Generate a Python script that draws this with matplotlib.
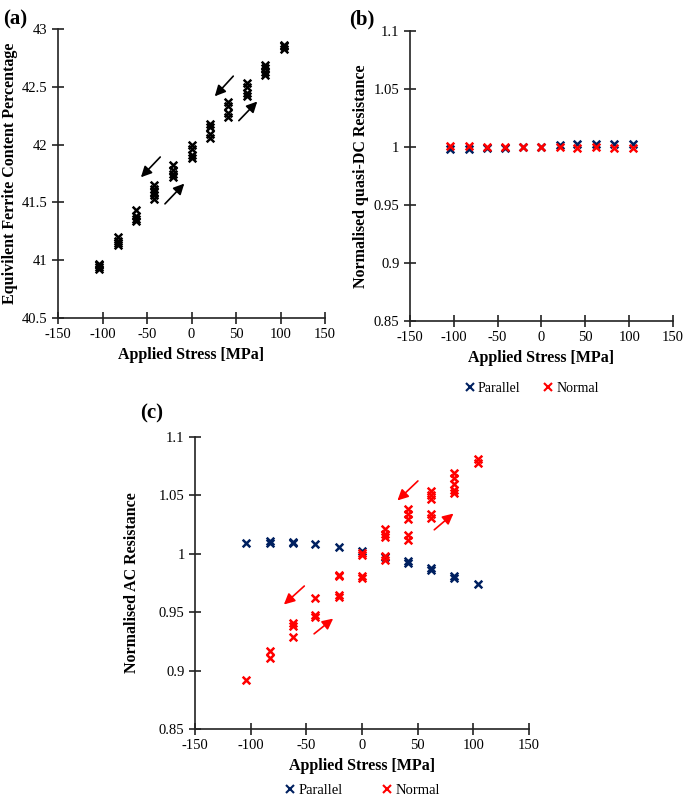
import matplotlib.pyplot as plt
from matplotlib.lines import Line2D

plt.rcParams['font.family'] = ['Liberation Serif', 'DejaVu Serif']
plt.rcParams['font.size'] = 10.5
plt.rcParams['axes.unicode_minus'] = False

# Datos
stress = [-104, -83, -62, -42, -21, 0, 21, 41, 62, 83, 104]

ferrite = [
    [40.92, 40.94, 40.96, 40.97],
    [41.13, 41.15, 41.17, 41.20],
    [41.34, 41.36, 41.38, 41.43],
    [41.53, 41.56, 41.59, 41.62, 41.65],
    [41.72, 41.75, 41.78, 41.82],
    [41.88, 41.91, 41.96, 42.00],
    [42.06, 42.09, 42.15, 42.18],
    [42.24, 42.27, 42.33, 42.37],
    [42.42, 42.45, 42.50, 42.53],
    [42.60, 42.63, 42.66, 42.69],
    [42.83, 42.85, 42.86],
]

dc_parallel = [0.998, 0.998, 0.999, 0.999, 1.000, 1.000, 1.002, 1.003, 1.003, 1.003, 1.003]
dc_normal = [1.001, 1.001, 1.000, 1.000, 1.000, 1.000, 1.000, 0.999, 1.000, 0.999, 0.999]

ac_parallel = [
    [1.009],
    [1.009, 1.011],
    [1.009, 1.010],
    [1.008],
    [1.006],
    [1.002],
    [0.997],
    [0.992, 0.994],
    [0.986, 0.988],
    [0.979, 0.981],
    [0.974],
]
ac_normal = [
    [0.892],
    [0.911, 0.917],
    [0.929, 0.938, 0.941],
    [0.946, 0.948, 0.962],
    [0.963, 0.965, 0.981, 0.982],
    [0.979, 0.981, 0.999, 1.001],
    [0.995, 0.998, 1.014, 1.017, 1.021],
    [1.012, 1.016, 1.030, 1.034, 1.038],
    [1.031, 1.034, 1.047, 1.050, 1.054],
    [1.052, 1.055, 1.060, 1.065, 1.069],
    [1.078, 1.081],
]

# flechas (inicio, fin)
arrows_a = [((49, 42.61), (24, 42.40)), ((51, 42.19), (76, 42.39)),
            ((-33, 41.91), (-59, 41.70)), ((-32, 41.47), (-6, 41.68))]
arrows_c = [((52, 1.064), (30, 1.044)), ((63, 1.019), (84, 1.036)),
            ((-50, 0.974), (-72, 0.955)), ((-45, 0.930), (-24, 0.946))]

navy = '#002060'
red = '#ff0000'


def flatten(groups):
    xs, ys = [], []
    for x, vals in zip(stress, groups):
        for v in vals:
            xs.append(x)
            ys.append(v)
    return xs, ys


def style(ax, ylim, yticks, ylabels, ylabel):
    ax.set_xlim(-150, 150)
    ax.set_ylim(*ylim)
    ax.set_xticks([-150, -100, -50, 0, 50, 100, 150])
    ax.set_yticks(yticks)
    ax.set_yticklabels(ylabels)
    for s in ['top', 'right']:
        ax.spines[s].set_visible(False)
    for s in ['left', 'bottom']:
        ax.spines[s].set_linewidth(1.2)
        ax.spines[s].set_color('#222222')
    ax.tick_params(direction='inout', length=8, width=1.2, color='#222222', labelsize=10.5)
    ax.set_xlabel('Applied Stress [MPa]', fontweight='bold', fontsize=11.5)
    ax.set_ylabel(ylabel, fontweight='bold', fontsize=11.5)


fig = plt.figure(figsize=(6.85, 7.99), dpi=100)

# (a)
ax1 = fig.add_axes([0.0847, 0.602, 0.3898, 0.3617])
xs, ys = flatten(ferrite)
ax1.scatter(xs, ys, marker='x', color='black', s=30, linewidths=1.8)
for (x0, y0), (x1, y1) in arrows_a:
    ax1.annotate('', xy=(x1, y1), xytext=(x0, y0),
                 arrowprops=dict(arrowstyle='-|>', color='black', lw=1.2, mutation_scale=16))
style(ax1, (40.5, 43), [40.5, 41, 41.5, 42, 42.5, 43],
      ['40.5', '41', '41.5', '42', '42.5', '43'], 'Equivilent Ferrite Content Percentage')
ax1.yaxis.set_label_coords(-0.15, 0.5)
fig.text(0.005, 0.975, '(a)', fontweight='bold', fontsize=15, va='center')

# (b)
ax2 = fig.add_axes([0.5985, 0.5982, 0.384, 0.363])
ax2.scatter(stress, dc_parallel, marker='x', color=navy, s=30, linewidths=1.8, label='Parallel')
ax2.scatter(stress, dc_normal, marker='x', color=red, s=30, linewidths=1.8, label='Normal')
style(ax2, (0.85, 1.1), [0.85, 0.9, 0.95, 1.0, 1.05, 1.1],
      ['0.85', '0.9', '0.95', '1', '1.05', '1.1'], 'Normalised quasi-DC Resistance')
ax2.yaxis.set_label_coords(-0.155, 0.5)
fig.text(0.51, 0.975, '(b)', fontweight='bold', fontsize=15, va='center')

handles = [Line2D([], [], ls='none', marker='x', color=navy, markersize=5.5, mew=1.5),
           Line2D([], [], ls='none', marker='x', color=red, markersize=5.5, mew=1.5)]
fig.legend(handles, ['Parallel', 'Normal'], loc='center', bbox_to_anchor=(0.777, 0.514),
           ncol=2, frameon=False, fontsize=10, handlelength=0.6, handletextpad=0.3,
           columnspacing=1.7)

# (c)
ax3 = fig.add_axes([0.2847, 0.0876, 0.4876, 0.3655])
xs, ys = flatten(ac_parallel)
ax3.scatter(xs, ys, marker='x', color=navy, s=30, linewidths=1.8)
xs, ys = flatten(ac_normal)
ax3.scatter(xs, ys, marker='x', color=red, s=30, linewidths=1.8)
for (x0, y0), (x1, y1) in arrows_c:
    ax3.annotate('', xy=(x1, y1), xytext=(x0, y0),
                 arrowprops=dict(arrowstyle='-|>', color=red, lw=1.2, mutation_scale=16))
style(ax3, (0.85, 1.1), [0.85, 0.9, 0.95, 1.0, 1.05, 1.1],
      ['0.85', '0.9', '0.95', '1', '1.05', '1.1'], 'Normalised AC Resistance')
ax3.yaxis.set_label_coords(-0.165, 0.5)
fig.text(0.205, 0.483, '(c)', fontweight='bold', fontsize=15, va='center')

fig.legend(handles, ['Parallel', 'Normal'], loc='center', bbox_to_anchor=(0.53, 0.011),
           ncol=2, frameon=False, fontsize=10.5, handlelength=0.6, handletextpad=0.3,
           columnspacing=2.7)

fig.savefig('out.png', dpi=100)
